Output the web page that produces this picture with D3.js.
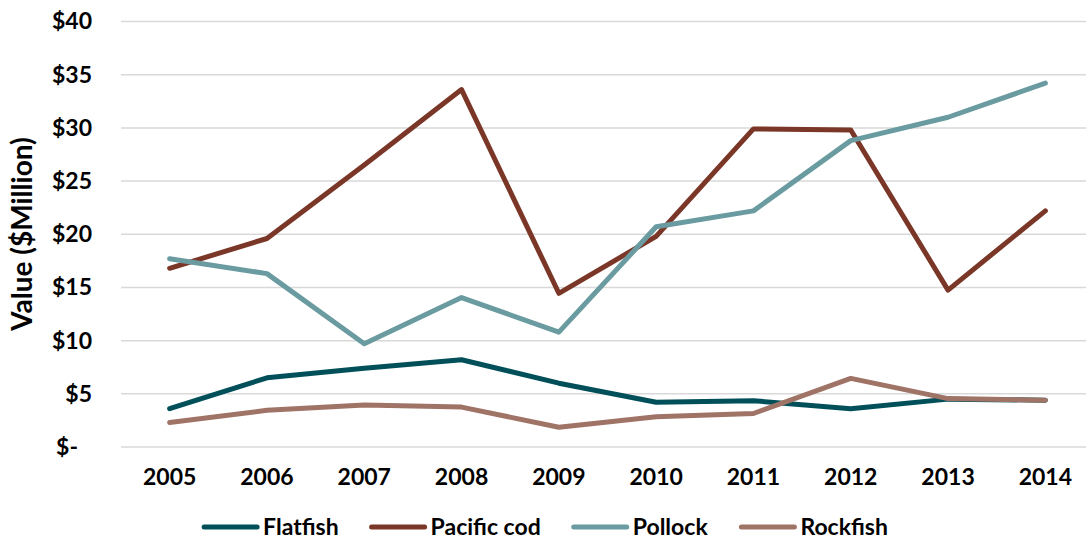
<!DOCTYPE html>
<html>
<head>
<meta charset="utf-8">
<script src="https://cdn.jsdelivr.net/npm/d3@7"></script>
<style>
  body { margin: 0; background: #fff; }
  svg { display: block; font-family: Lato, "Open Sans", sans-serif; font-weight: bold; }
</style>
</head>
<body>
<svg></svg>
<script>
const years = ['2005', '2006', '2007', '2008', '2009', '2010', '2011', '2012', '2013', '2014']
const flatfish = [3.6, 6.5, 7.4, 8.2, 6.0, 4.2, 4.35, 3.6, 4.5, 4.4]
const pacificCod = [16.8, 19.6, 26.5, 33.6, 14.45, 19.8, 29.9, 29.8, 14.75, 22.2]
const pollock = [17.7, 16.3, 9.7, 14.05, 10.8, 20.7, 22.2, 28.8, 31.0, 34.2]
const rockfish = [2.3, 3.45, 3.95, 3.75, 1.85, 2.85, 3.15, 6.45, 4.55, 4.4]
const yTicks = [0, 5, 10, 15, 20, 25, 30, 35, 40]

const seriesNames = ['Flatfish', 'Pacific cod', 'Pollock', 'Rockfish']
const seriesColors = ['#004f59', '#7a3627', '#6a9ba0', '#a07367']
const series = [flatfish, pacificCod, pollock, rockfish].map((values, i) => ({
  name: seriesNames[i], color: seriesColors[i], values
}))

const svgWidth = 1086
const svgHeight = 541
const svg = d3.select('svg')
  .attr('width', svgWidth)
  .attr('height', svgHeight)

const plotLeft = 121
const plotRight = 1086

const xScale = d3.scaleBand()
  .domain(years)
  .range([plotLeft, 1094])

const yScale = d3.scaleLinear()
  .domain([0, 40])
  .range([447, 21.5])

// gridlines
svg.append('g')
  .selectAll('line')
  .data(yTicks)
  .enter()
  .append('line')
  .attr('x1', plotLeft)
  .attr('x2', plotRight)
  .attr('y1', d => yScale(d))
  .attr('y2', d => yScale(d))
  .attr('stroke', '#d9d9d9')
  .attr('stroke-width', 1.5)

// y axis labels
const yAxis = d3.axisLeft(yScale)
  .tickValues(yTicks)
  .tickSize(0)
  .tickPadding(0)
  .tickFormat(d => d === 0 ? '$-' : '$' + d)

svg.append('g')
  .attr('transform', 'translate(92,0)')
  .call(yAxis)
  .call(g => g.select('.domain').remove())
  .call(g => g.selectAll('text')
    .attr('font-size', 23)
    .attr('font-family', 'Lato, sans-serif')
    .attr('font-weight', 'bold')
    .attr('fill', '#000')
    .attr('dx', d => d === 0 ? -14 : 0))

// x axis labels
const xAxis = d3.axisBottom(xScale)
  .tickSize(0)
  .tickPadding(0)

svg.append('g')
  .attr('transform', 'translate(0,469)')
  .call(xAxis)
  .call(g => g.select('.domain').remove())
  .call(g => g.selectAll('text')
    .attr('font-size', 23)
    .attr('font-family', 'Lato, sans-serif')
    .attr('font-weight', 'bold')
    .attr('fill', '#000'))

// y axis title
svg.append('text')
  .attr('transform', 'translate(32,234) rotate(-90)')
  .attr('text-anchor', 'middle')
  .attr('font-size', 28)
  .text('Value ($Million)')

// lines
const line = d3.line()
  .x((d, i) => xScale(years[i]) + xScale.bandwidth() / 2)
  .y(d => yScale(d))

svg.append('g')
  .selectAll('path')
  .data(series)
  .enter()
  .append('path')
  .attr('d', d => line(d.values))
  .attr('fill', 'none')
  .attr('stroke', d => d.color)
  .attr('stroke-width', 5)
  .attr('stroke-linejoin', 'round')
  .attr('stroke-linecap', 'round')

// legend
const legend = svg.append('g')
const symbolLen = 53
const textGap = 6
const itemGap = 33
let cursor = 0
const items = legend.selectAll('g')
  .data(series)
  .enter()
  .append('g')

items.append('line')
  .attr('x1', 0)
  .attr('x2', symbolLen)
  .attr('y1', 0)
  .attr('y2', 0)
  .attr('stroke', d => d.color)
  .attr('stroke-width', 5)
  .attr('stroke-linecap', 'round')

items.append('text')
  .attr('x', symbolLen + textGap)
  .attr('y', 8)
  .attr('font-size', 23)
  .text(d => d.name)

items.each(function () {
  const w = this.getBBox().width
  d3.select(this).attr('transform', `translate(${cursor},0)`)
  cursor += w + itemGap
})
const legendWidth = cursor - itemGap
legend.attr('transform', `translate(${546 - legendWidth / 2},527)`)
</script>
</body>
</html>
